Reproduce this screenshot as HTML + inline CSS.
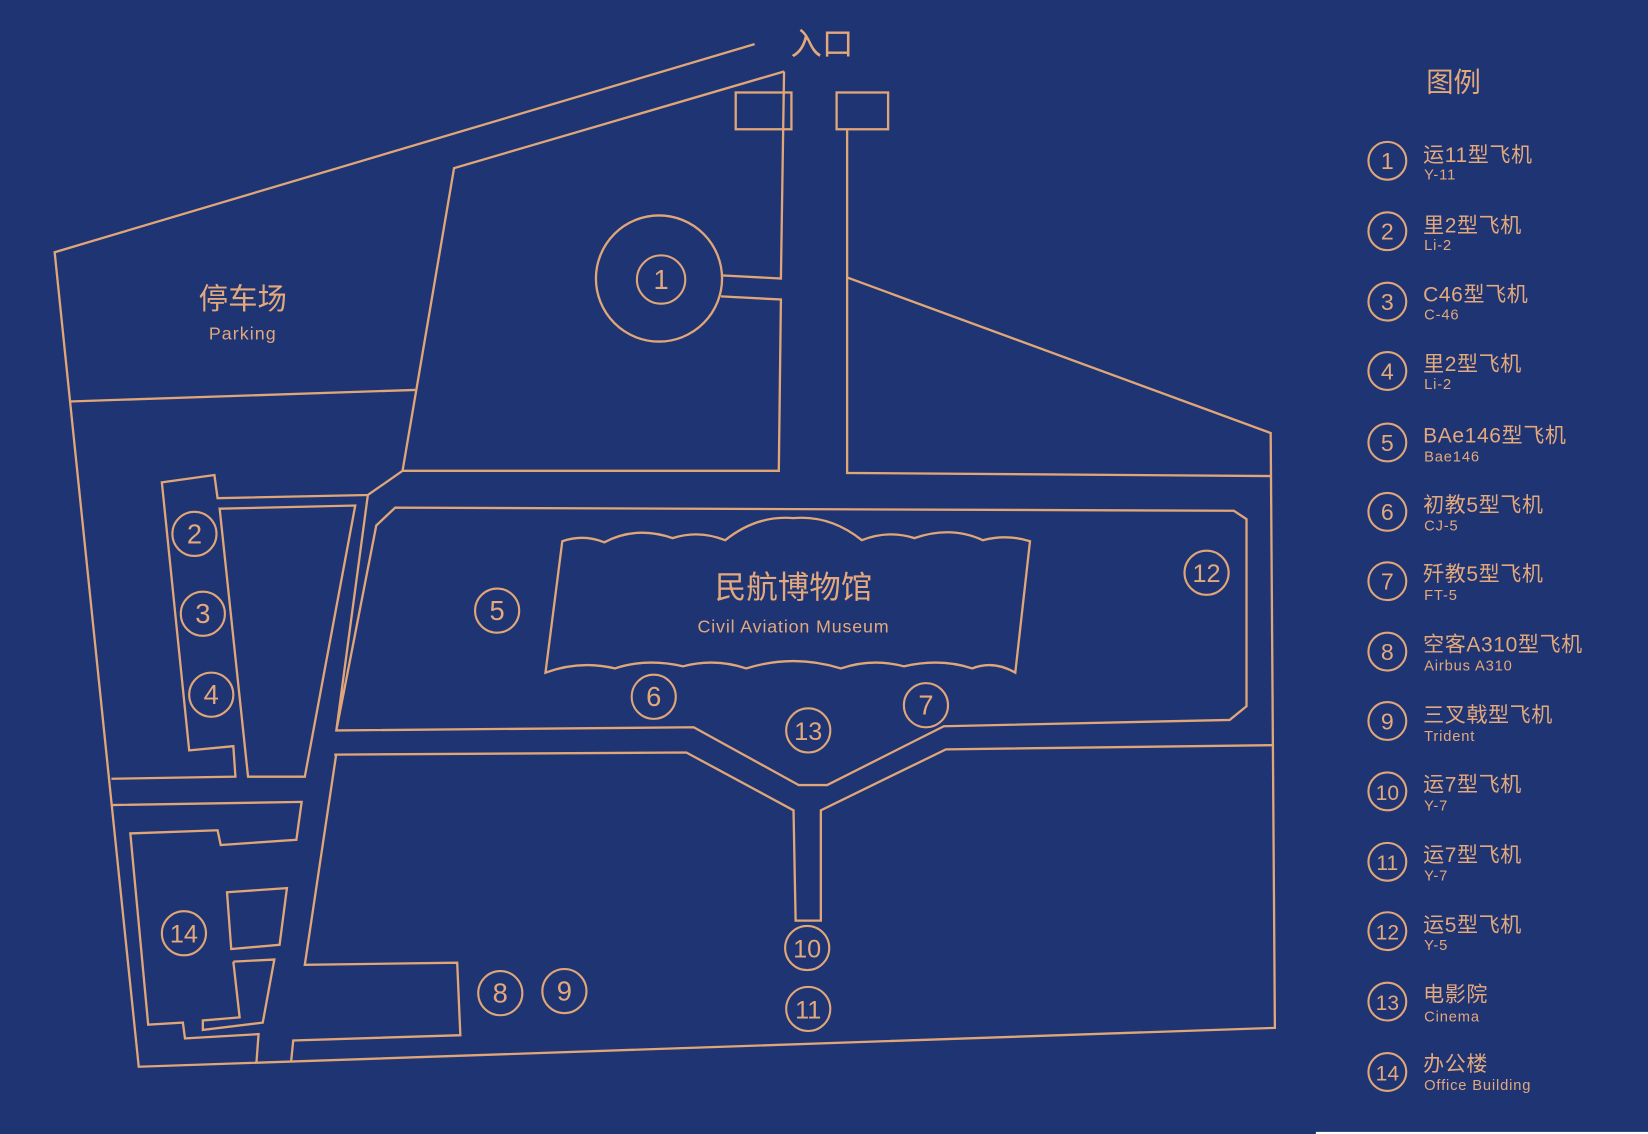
<!DOCTYPE html>
<html><head><meta charset="utf-8"><style>
html,body{margin:0;padding:0;background:#1f3473;}
svg{display:block}
text{font-family:"Liberation Sans","Noto Sans CJK SC",sans-serif;fill:#e3a97c}
</style></head><body>
<svg width="1648" height="1134" viewBox="0 0 1568 1079" preserveAspectRatio="none" xmlns="http://www.w3.org/2000/svg">
<rect width="1568" height="1079" fill="#1f3473"/>
<rect x="1252" y="1077" width="316" height="2" fill="#fff"/>
<g fill="none" stroke="#e0a678" stroke-width="2.2" stroke-linejoin="miter">
<polyline points="718,42 52,240 132,1015 1213,978 1209,412 806,264 806,124"/>
<rect x="700" y="88" width="53" height="35"/>
<rect x="796" y="88" width="49" height="35"/>
<polyline points="746,68 432,160 383,448 741,448 743,285 686,282"/>
<polyline points="686,262 743,265 746,68"/>
<circle cx="627" cy="265" r="60"/>
<line x1="66" y1="382" x2="395" y2="371"/>
<polyline points="806,264 806,450 1209,453"/>
<polyline points="383,448 350,471 207,474 204,452 154,459 180,714 222,710 224,739 106,741"/>
<polygon points="209,484 338,481 290,739 236,739"/>
<polyline points="350,471 320,695 660,692 760,747 787,747 898,691 1170,685 1186,672 1186,494 1174,486 376,483 358,500 320,695"/>
<polyline points="320,717 290,918 435,916 438,985 279,990 277,1010"/>
<polyline points="318,718 653,716 755,771 757,876 781,876 781,771 900,713 1211,709"/>
<polyline points="106,766 287,763 282,799 210,804 207,790 124,793 141,975 174,973 176,988 246,984 244,1011"/>
<polygon points="216,849 273,845 266,899 220,903"/>
<polyline points="222,915 261,913 250,973 193,980 193,971 228,968 222,915"/>
<path d="M535,515 Q555,508 575,516 Q605,500 640,512 Q665,504 690,514 Q720,490 755,493 Q790,490 820,514 Q845,504 870,512 Q905,500 935,514 Q958,508 980,515 L966,640 Q945,628 925,636 Q895,626 860,634 Q830,626 800,636 Q755,622 710,636 Q680,626 650,634 Q615,626 585,636 Q552,628 519,640 Z"/>
</g>
<g fill="none" stroke="#e0a678" stroke-width="2">
<circle cx="629" cy="266" r="23"/>
<circle cx="185" cy="508" r="21"/><circle cx="193" cy="584" r="21"/><circle cx="201" cy="661" r="21"/>
<circle cx="473" cy="581" r="21"/><circle cx="622" cy="663" r="21"/><circle cx="881" cy="671" r="21"/>
<circle cx="1148" cy="545" r="21"/><circle cx="769" cy="695" r="21"/><circle cx="768" cy="902" r="21"/>
<circle cx="769" cy="960" r="21"/><circle cx="476" cy="945" r="21"/><circle cx="537" cy="943" r="21"/>
<circle cx="175" cy="888" r="21"/>
</g>
<g font-size="26" text-anchor="middle">
<text x="629" y="275">1</text>
<text x="185" y="517">2</text><text x="193" y="593">3</text><text x="201" y="670">4</text>
<text x="473" y="590">5</text><text x="622" y="672">6</text><text x="881" y="680">7</text>
<text x="1148" y="554" font-size="24">12</text><text x="769" y="704" font-size="24">13</text><text x="768" y="911" font-size="24">10</text>
<text x="769" y="969" font-size="24">11</text><text x="476" y="954">8</text><text x="537" y="952">9</text>
<text x="175" y="897" font-size="24">14</text>
</g>
<text x="782" y="52" font-size="30" text-anchor="middle">入口</text>
<text x="231" y="294" font-size="28" text-anchor="middle">停车场</text>
<text x="231" y="323" font-size="17" text-anchor="middle" letter-spacing="1">Parking</text>
<text x="755" y="569" font-size="30" text-anchor="middle">民航博物馆</text>
<text x="755" y="602" font-size="17" text-anchor="middle" letter-spacing="0.8">Civil Aviation Museum</text>
<text x="1383" y="87" font-size="26" text-anchor="middle">图例</text>
<g fill="none" stroke="#e0a678" stroke-width="2">
<circle cx="1320" cy="153" r="18"/><circle cx="1320" cy="220" r="18"/><circle cx="1320" cy="287" r="18"/>
<circle cx="1320" cy="353" r="18"/><circle cx="1320" cy="421" r="18"/><circle cx="1320" cy="487" r="18"/>
<circle cx="1320" cy="553" r="18"/><circle cx="1320" cy="620" r="18"/><circle cx="1320" cy="686" r="18"/>
<circle cx="1320" cy="753" r="18"/><circle cx="1320" cy="820" r="18"/><circle cx="1320" cy="886" r="18"/>
<circle cx="1320" cy="953" r="18"/><circle cx="1320" cy="1020" r="18"/>
</g>
<g font-size="22" text-anchor="middle">
<text x="1320" y="161">1</text><text x="1320" y="228">2</text><text x="1320" y="295">3</text>
<text x="1320" y="361">4</text><text x="1320" y="429">5</text><text x="1320" y="495">6</text>
<text x="1320" y="561">7</text><text x="1320" y="628">8</text><text x="1320" y="694">9</text>
<text x="1320" y="761" font-size="20">10</text><text x="1320" y="828" font-size="20">11</text><text x="1320" y="894" font-size="20">12</text>
<text x="1320" y="961" font-size="20">13</text><text x="1320" y="1028" font-size="20">14</text>
</g>
<g font-size="20" letter-spacing="0.6">
<text x="1354" y="154">运11型飞机</text><text x="1354" y="221">里2型飞机</text><text x="1354" y="287">C46型飞机</text>
<text x="1354" y="353">里2型飞机</text><text x="1354" y="421">BAe146型飞机</text><text x="1354" y="487">初教5型飞机</text>
<text x="1354" y="553">歼教5型飞机</text><text x="1354" y="620">空客A310型飞机</text><text x="1354" y="687">三叉戟型飞机</text>
<text x="1354" y="753">运7型飞机</text><text x="1354" y="820">运7型飞机</text><text x="1354" y="887">运5型飞机</text>
<text x="1354" y="953">电影院</text><text x="1354" y="1019">办公楼</text>
</g>
<g font-size="14" letter-spacing="0.8">
<text x="1355" y="171">Y-11</text><text x="1355" y="238">Li-2</text><text x="1355" y="304">C-46</text>
<text x="1355" y="370">Li-2</text><text x="1355" y="439">Bae146</text><text x="1355" y="505">CJ-5</text>
<text x="1355" y="571">FT-5</text><text x="1355" y="638">Airbus  A310</text><text x="1355" y="705">Trident</text>
<text x="1355" y="771">Y-7</text><text x="1355" y="838">Y-7</text><text x="1355" y="904">Y-5</text>
<text x="1355" y="972">Cinema</text><text x="1355" y="1037">Office Building</text>
</g>
</svg>
</body></html>
